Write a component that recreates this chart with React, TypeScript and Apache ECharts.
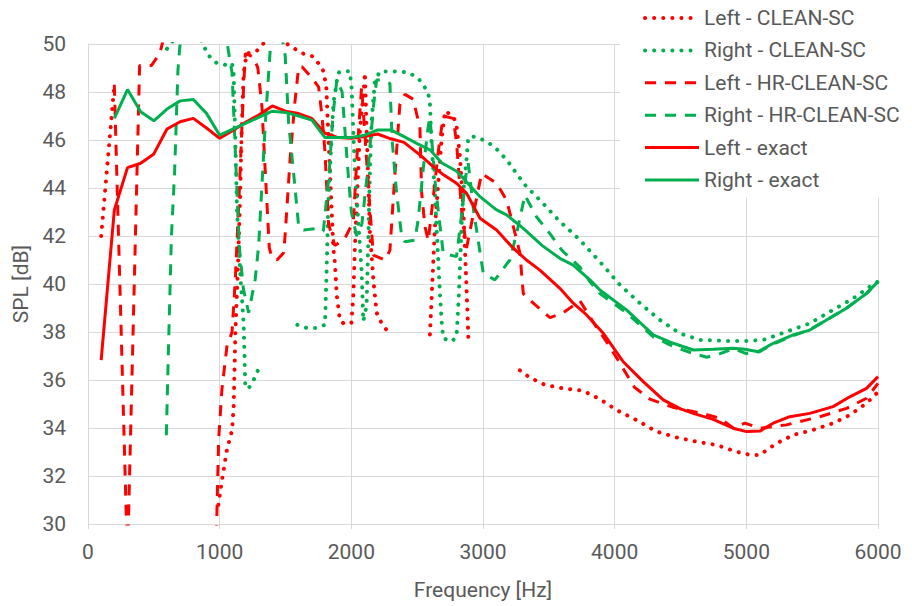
import React, { useEffect, useRef } from "react";
import * as echarts from "echarts";

const FONT = "Roboto";
const TEXT_COLOR = "#595959";
const GRID_COLOR = "#d9d9d9";
const RED = "#ff0000";
const GREEN = "#00b050";

const seriesNames = [
  "Left - CLEAN-SC",
  "Right - CLEAN-SC",
  "Left - HR-CLEAN-SC",
  "Right - HR-CLEAN-SC",
  "Left - exact",
  "Right - exact",
];

// [frequency Hz, SPL dB]; null = gap in the curve
const leftCleanSc: [number, number | null][] = [
  [100, 42.0], [200, 48.3], [240, null],
  [990, 30.8], [1017, 31.8], [1055, 33.1], [1094, 33.9], [1106, 34.9], [1120, 38.1], [1140, 40.9],
  [1155, 43.6], [1167, 46.4], [1182, 48.8], [1205, 49.6], [1280, 49.7], [1330, 50.0], [1420, 50.8],
  [1520, 49.96], [1570, 49.8], [1635, 49.6], [1700, 49.5], [1750, 49.2], [1790, 48.85], [1810, 48.2],
  [1820, 46.9], [1863, 41.5], [1875, 40.9], [1890, 39.5], [1913, 38.5], [1940, 38.36], [2000, 38.36],
  [2015, 39.5], [2027, 41.5], [2065, 46.4], [2090, 47.8], [2103, 48.8], [2116, 46.4], [2141, 42.2],
  [2167, 40.2], [2192, 38.8], [2230, 38.36], [2280, 38.0], [2400, null],
  [2597, 37.9], [2635, 42.4], [2685, 46.0], [2711, 47.2], [2774, 47.0], [2799, 46.6], [2825, 45.3],
  [2850, 43.2], [2875, 39.8], [2890, 37.6], [3000, null],
  [3280, 36.4], [3356, 36.1], [3470, 35.8], [3609, 35.65], [3761, 35.55], [3888, 35.2], [4014, 34.75],
  [4166, 34.33], [4318, 33.85], [4470, 33.61], [4622, 33.43], [4774, 33.29], [4926, 33.01], [5027, 32.88],
  [5103, 32.88], [5229, 33.36], [5356, 33.71], [5508, 33.92], [5659, 34.2], [5786, 34.54], [5913, 35.03],
  [6000, 35.5],
];

const rightCleanSc: [number, number | null][] = [
  [600, 49.8], [680, 50.4], [840, 50.4], [910, 49.55], [979, 49.2], [1043, 49.13], [1094, 49.2],
  [1106, 48.8], [1119, 46.0], [1131, 43.2], [1157, 40.4], [1182, 38.36], [1195, 35.7], [1220, 35.65],
  [1258, 36.0], [1290, 36.4], [1400, null],
  [1590, 38.3], [1660, 38.17], [1736, 38.17], [1800, 38.3], [1812, 40.5], [1825, 43.3], [1850, 46.1],
  [1863, 47.5], [1900, 48.8], [1926, 48.86], [1989, 48.86], [2002, 48.17], [2027, 44.7], [2053, 42.6],
  [2078, 40.53], [2091, 38.45], [2116, 39.1], [2129, 41.9], [2141, 44.7], [2154, 46.8], [2179, 48.45],
  [2217, 48.86], [2306, 48.85], [2382, 48.85], [2445, 48.78], [2508, 48.57], [2546, 48.3], [2584, 47.95],
  [2597, 47.53], [2609, 45.86], [2635, 43.78], [2647, 42.39], [2660, 41.0], [2673, 39.6], [2685, 38.5],
  [2698, 37.74], [2761, 37.6], [2799, 37.8], [2817, 39.6], [2837, 42.4], [2850, 43.8], [2875, 45.2],
  [2888, 46.1], [2938, 46.14], [3002, 46.0], [3065, 45.8], [3128, 45.5], [3204, 45.0], [3255, 44.6],
  [3331, 44.05], [3432, 43.5], [3584, 42.6], [3685, 42.1], [3736, 41.83], [3888, 40.93], [4040, 39.96],
  [4192, 39.2], [4344, 38.5], [4496, 37.94], [4648, 37.67], [4850, 37.63], [5002, 37.63], [5128, 37.67],
  [5304, 38.01], [5482, 38.36], [5659, 38.92], [5811, 39.4], [5938, 39.89], [6000, 40.1],
];

const leftHrCleanSc: [number, number | null][] = [
  [200, 48.3], [300, 28.5], [392, 49.1], [481, 49.1], [545, 49.6], [600, 50.8], [650, null],
  [975, 29.5], [992, 33.5], [1017, 35.6], [1055, 37.4], [1094, 38.0], [1119, 40.2], [1150, 44.0],
  [1180, 48.0], [1195, 49.6], [1220, 49.55], [1258, 49.45], [1290, 49.0], [1321, 47.4], [1347, 44.6],
  [1377, 41.5], [1397, 41.1], [1435, 41.0], [1486, 41.3], [1498, 42.1], [1536, 45.3], [1570, 47.5],
  [1600, 49.05], [1625, 49.05], [1700, 48.6], [1752, 48.2], [1777, 47.0], [1800, 45.5], [1827, 42.5],
  [1875, 41.6], [1951, 41.9], [2015, 42.6], [2050, 46.0], [2078, 48.2], [2100, 46.5], [2130, 44.0],
  [2167, 41.2], [2255, 41.0], [2293, 41.4], [2330, 44.5], [2369, 47.5], [2407, 47.9], [2470, 47.7],
  [2521, 46.5], [2534, 43.8], [2559, 42.4], [2584, 41.8], [2620, 43.5], [2660, 45.5], [2685, 46.5],
  [2698, 47.0], [2774, 46.9], [2799, 45.9], [2837, 43.1], [2863, 42.0], [2875, 41.5], [2930, 43.0],
  [2989, 44.6], [3103, 44.2], [3179, 43.5], [3230, 42.4], [3280, 41.3], [3306, 39.6], [3382, 39.2],
  [3508, 38.6], [3609, 38.8], [3736, 39.3], [3850, 38.3], [3950, 37.5], [4040, 36.7], [4150, 35.7],
  [4268, 35.2], [4450, 34.85], [4672, 34.6], [4800, 34.4], [4900, 34.0], [4989, 34.2], [5103, 33.99],
  [5304, 34.13], [5558, 34.47], [5761, 34.82], [5913, 35.24], [6000, 35.86],
];

const rightHrCleanSc: [number, number | null][] = [
  [595, 33.7], [607, 36.4], [633, 41.9], [658, 44.7], [683, 48.9], [696, 49.8], [720, 51.0], [1000, 51.0],
  [1050, 50.3], [1075, 49.4], [1094, 48.8], [1131, 43.9], [1150, 41.5], [1180, 39.8], [1220, 38.8],
  [1245, 39.5], [1270, 40.2], [1296, 41.6], [1320, 44.0], [1350, 47.0], [1384, 49.75], [1420, 50.6],
  [1470, 50.4], [1498, 49.5], [1524, 46.7], [1562, 44.6], [1600, 42.4], [1638, 42.25], [1724, 42.3],
  [1787, 42.2], [1830, 44.5], [1860, 47.0], [1890, 48.5], [1930, 48.0], [1970, 45.0], [2000, 43.0],
  [2040, 42.0], [2080, 42.5], [2130, 45.0], [2170, 47.5], [2192, 48.5], [2217, 48.5], [2293, 48.36],
  [2310, 46.0], [2340, 44.0], [2382, 42.0], [2407, 41.76], [2483, 41.83], [2508, 42.7], [2550, 45.0],
  [2584, 46.55], [2597, 46.97], [2640, 44.0], [2698, 41.28], [2799, 41.14], [2840, 43.0], [2875, 44.75],
  [2888, 45.03], [2930, 43.0], [3002, 40.45], [3090, 40.17], [3204, 41.0], [3255, 42.1], [3318, 43.7],
  [3406, 42.8], [3508, 42.1], [3600, 41.4], [3736, 40.7], [3812, 40.1], [3888, 39.6], [4090, 38.8],
  [4293, 37.8], [4445, 37.4], [4597, 37.1], [4700, 36.95], [4800, 37.1], [4900, 37.3], [5000, 37.1],
  [5100, 37.18], [5204, 37.5], [5356, 37.85], [5482, 38.1], [5609, 38.5], [5761, 39.0], [5913, 39.6],
  [6000, 40.1],
];

const leftExact: [number, number][] = [
  [100, 36.83], [200, 43.08], [300, 44.85], [400, 45.03], [500, 45.42], [600, 46.46], [700, 46.76],
  [800, 46.9], [900, 46.5], [1000, 46.07], [1100, 46.4], [1200, 46.75], [1300, 47.05], [1400, 47.42],
  [1500, 47.2], [1600, 47.1], [1700, 46.9], [1800, 46.28], [1900, 46.1], [2000, 46.07], [2100, 46.15],
  [2200, 46.25], [2300, 46.05], [2400, 45.9], [2521, 45.38], [2622, 44.89], [2700, 44.55], [2799, 44.2],
  [2875, 43.78], [2977, 42.74], [3103, 42.25], [3230, 41.49], [3330, 41.0], [3432, 40.58], [3584, 39.82],
  [3685, 39.2], [3787, 38.71], [3913, 37.95], [4065, 36.76], [4217, 35.93], [4369, 35.17], [4500, 34.8],
  [4597, 34.61], [4748, 34.36], [4900, 33.99], [5002, 33.85], [5103, 33.87], [5204, 34.2], [5330, 34.47],
  [5482, 34.61], [5659, 34.89], [5786, 35.3], [5913, 35.65], [6000, 36.14],
];

const rightExact: [number, number][] = [
  [200, 46.9], [300, 48.1], [400, 47.18], [500, 46.8], [600, 47.29], [700, 47.63], [800, 47.69],
  [900, 47.11], [1000, 46.2], [1100, 46.45], [1200, 46.7], [1300, 46.95], [1400, 47.2], [1500, 47.15],
  [1600, 47.0], [1700, 46.83], [1800, 46.1], [1900, 46.1], [2000, 46.1], [2100, 46.2], [2200, 46.42],
  [2300, 46.42], [2400, 46.14], [2500, 45.85], [2600, 45.58], [2685, 45.05], [2800, 44.7], [2900, 44.1],
  [2977, 43.64], [3100, 43.1], [3179, 42.88], [3306, 42.32], [3450, 41.6], [3584, 41.07], [3685, 40.79],
  [3812, 40.17], [3888, 39.75], [4090, 38.92], [4293, 37.88], [4445, 37.53], [4597, 37.25], [4748, 37.28],
  [4900, 37.32], [4989, 37.28], [5090, 37.18], [5204, 37.53], [5356, 37.88], [5482, 38.08], [5609, 38.5],
  [5761, 38.99], [5913, 39.61], [6000, 40.1],
];

const seriesData = [leftCleanSc, rightCleanSc, leftHrCleanSc, rightHrCleanSc, leftExact, rightExact];
const seriesColors = [RED, GREEN, RED, GREEN, RED, GREEN];
const seriesKinds = ["dotted", "dotted", "dashed", "dashed", "solid", "solid"];

function lineStyleFor(kind: string, color: string) {
  if (kind === "dotted") return { color, width: 4, type: [0.1, 9], cap: "round" };
  if (kind === "dashed") return { color, width: 3, type: [11, 9], cap: "butt" };
  return { color, width: 3, type: "solid" };
}

export default function App() {
  const ref = useRef<HTMLDivElement>(null);
  useEffect(() => {
    document.body.style.margin = "0";
    const chart = echarts.init(ref.current!, null, { renderer: "svg" });
    const textStyle = { fontFamily: FONT, fontSize: 21, color: TEXT_COLOR };
    chart.setOption({
      animation: false,
      backgroundColor: "#ffffff",
      grid: { left: 88, right: 34, top: 44, bottom: 82, containLabel: false },
      legend: {
        orient: "vertical",
        left: 620,
        top: 0,
        backgroundColor: "#ffffff",
        padding: [6, 8, 6, 23],
        itemWidth: 54,
        itemHeight: 14,
        itemGap: 8.4,
        itemStyle: { opacity: 0 },
        textStyle: { ...textStyle, lineHeight: 24 },
        data: seriesNames.map((name, i) => ({
          name,
          itemStyle: { opacity: 0 },
          lineStyle: lineStyleFor(seriesKinds[i], seriesColors[i]),
        })),
      },
      xAxis: {
        type: "value",
        min: 0,
        max: 6000,
        interval: 1000,
        name: "Frequency [Hz]",
        nameLocation: "middle",
        nameGap: 55,
        nameTextStyle: textStyle,
        axisLine: { show: true, lineStyle: { color: GRID_COLOR, width: 1 } },
        axisTick: { show: true, length: 5, lineStyle: { color: GRID_COLOR } },
        axisLabel: { ...textStyle, margin: 17, formatter: (v: number) => String(v) },
        splitLine: { show: true, lineStyle: { color: GRID_COLOR, width: 1 } },
      },
      yAxis: {
        type: "value",
        min: 30,
        max: 50,
        interval: 2,
        name: "SPL [dB]",
        nameLocation: "middle",
        nameGap: 55,
        nameTextStyle: textStyle,
        axisLine: { show: true, lineStyle: { color: GRID_COLOR, width: 1 } },
        axisTick: { show: false },
        axisLabel: { ...textStyle, margin: 22, formatter: (v: number) => String(v) },
        splitLine: { show: true, lineStyle: { color: GRID_COLOR, width: 1 } },
      },
      series: seriesNames.map((name, i) => ({
        name,
        type: "line",
        data: seriesData[i],
        symbol: "none",
        showSymbol: false,
        connectNulls: false,
        clip: true,
        color: seriesColors[i],
        itemStyle: { opacity: 0 },
        lineStyle: lineStyleFor(seriesKinds[i], seriesColors[i]),
        emphasis: { disabled: true },
      })),
    });
    return () => chart.dispose();
  }, []);
  return <div ref={ref} style={{ width: 912, height: 606 }} />;
}
